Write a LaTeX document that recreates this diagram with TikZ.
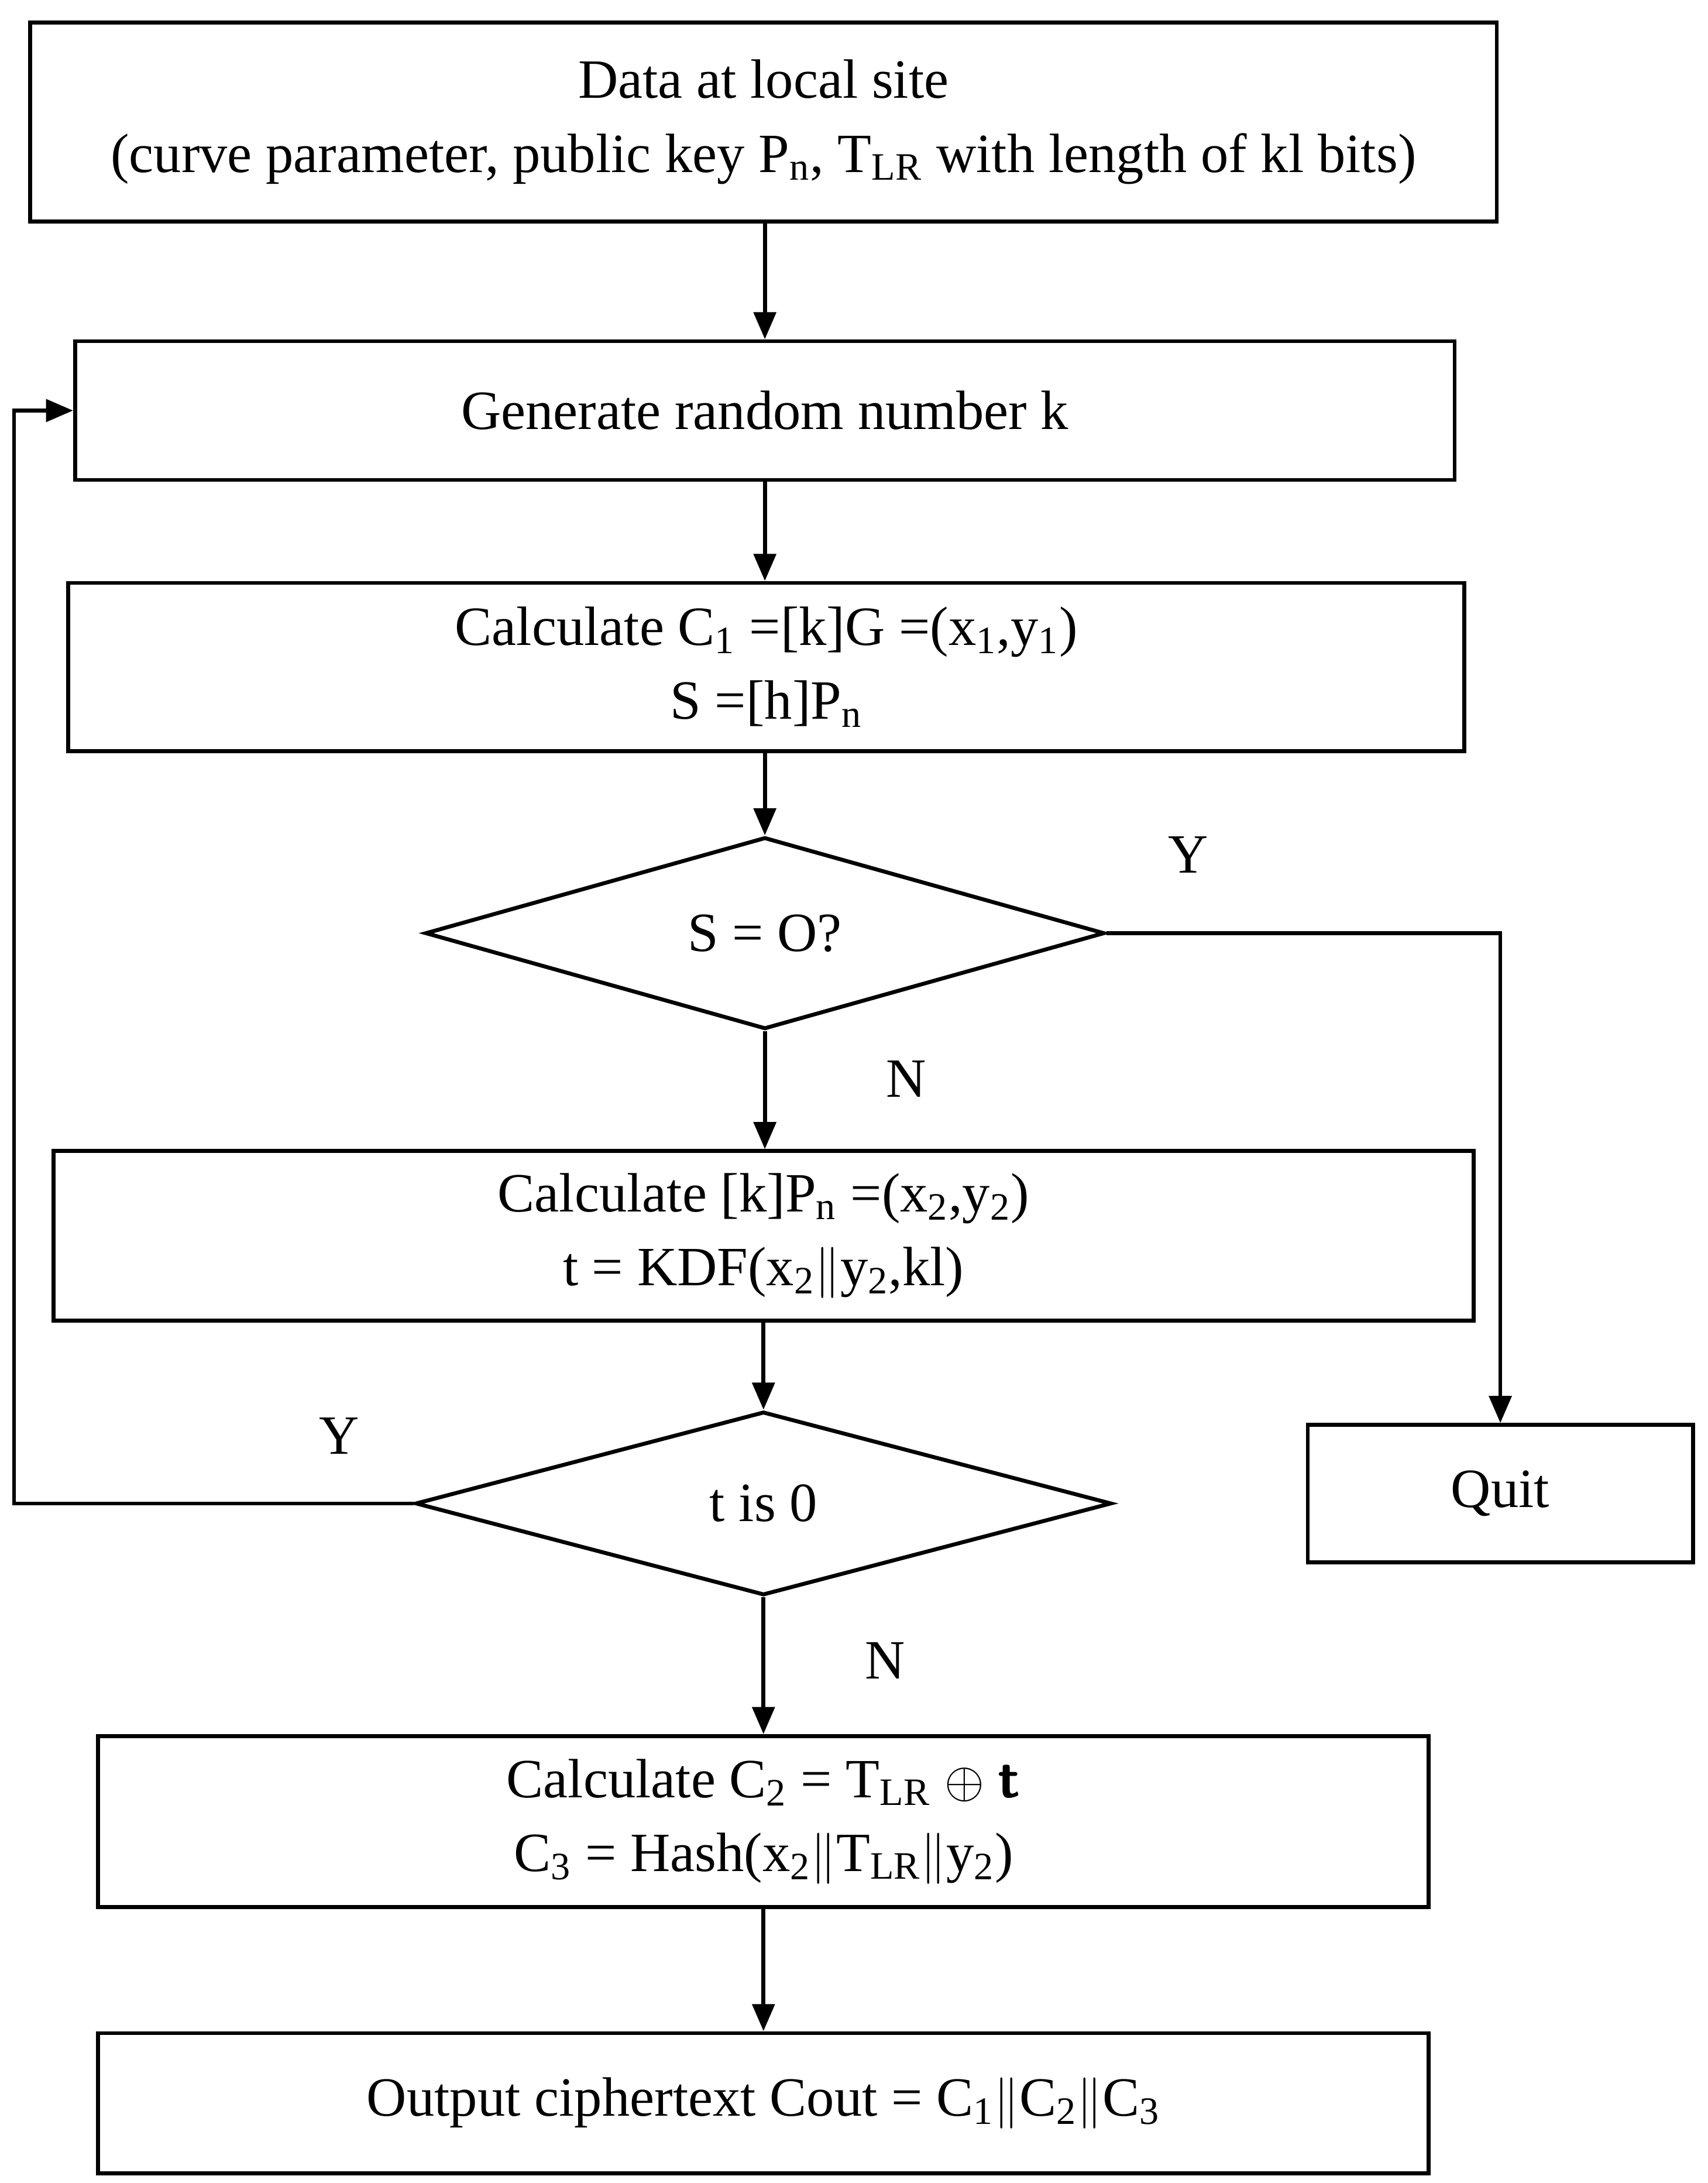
\documentclass[tikz,border=0pt]{standalone}
\usepackage{fontspec}
\setmainfont{Liberation Serif}
\usetikzlibrary{shapes.geometric,arrows.meta}
\begin{document}
\begin{tikzpicture}[x=0.02cm,y=-0.02cm,line width=1.6pt,
  >={Triangle[length=11pt,width=9pt]},
  every node/.style={font=\fontsize{22.5}{30}\selectfont},
  box/.style={rectangle,draw,align=center,inner sep=0pt},
  decision/.style={diamond,draw,inner sep=0pt},
  lbl/.style={inner sep=0pt}]

  \useasboundingbox (0,0) rectangle (1219,1558);

  \node[box,minimum width=20.94cm,minimum height=2.84cm] (data) at (545,87)
    {Data at local site\\(curve parameter, public key P\textsubscript{n}, T\textsubscript{LR} with length of kl bits)};
  \node[box,minimum width=19.7cm,minimum height=1.98cm] (gen) at (546,293) {Generate random number k};
  \node[box,minimum width=19.94cm,minimum height=2.4cm] (calc1) at (547,476)
    {Calculate C\textsubscript{1} =[k]G =(x\textsubscript{1},y\textsubscript{1})\\S =[h]P\textsubscript{n}};
  \node[decision,minimum width=9.7cm,minimum height=2.62cm] (dec1) at (546,666) {S = O?};
  \node[box,minimum width=20.28cm,minimum height=2.42cm] (calc2) at (545,882)
    {Calculate [k]P\textsubscript{n} =(x\textsubscript{2},y\textsubscript{2})\\t = KDF(x\textsubscript{2}$\|$y\textsubscript{2},kl)};
  \node[decision,minimum width=9.94cm,minimum height=2.62cm] (dec2) at (545,1073) {t is 0};
  \node[box,minimum width=5.5cm,minimum height=1.96cm] (quit) at (1071,1066) {Quit};
  \node[box,minimum width=19.0cm,minimum height=2.44cm] (calc3) at (545,1300)
    {Calculate C\textsubscript{2} = T\textsubscript{LR} $\oplus$ \textbf{\textsf{t}}\\C\textsubscript{3} = Hash(x\textsubscript{2}$\|$T\textsubscript{LR}$\|$y\textsubscript{2})};
  \node[box,minimum width=19.0cm,minimum height=2.0cm] (out) at (545,1501)
    {Output ciphertext Cout = C\textsubscript{1}$\|$C\textsubscript{2}$\|$C\textsubscript{3}};

  \coordinate (loop) at (10,1073);
  \coordinate (qturn) at (1071,666);

  \draw[->] (data.south -| dec1) -- (gen.north -| dec1);
  \draw[->] (gen.south -| dec1) -- (calc1.north -| dec1);
  \draw[->] (calc1.south -| dec1) -- (dec1.north);
  \draw[->] (dec1.south) -- (calc2.north -| dec1);
  \draw[->] (calc2.south -| dec2) -- (dec2.north);
  \draw[->] (dec2.south) -- (calc3.north -| dec2);
  \draw[->] (calc3) -- (out);
  \draw[->] (dec1.east) -- (qturn) -- (quit.north);
  \draw[->] (dec2.west) -- (loop) |- (gen.west);

  \node[lbl] at (848,610) {Y};
  \node[lbl] at (647,770) {N};
  \node[lbl] at (242,1025) {Y};
  \node[lbl] at (632,1185) {N};
\end{tikzpicture}
\end{document}
